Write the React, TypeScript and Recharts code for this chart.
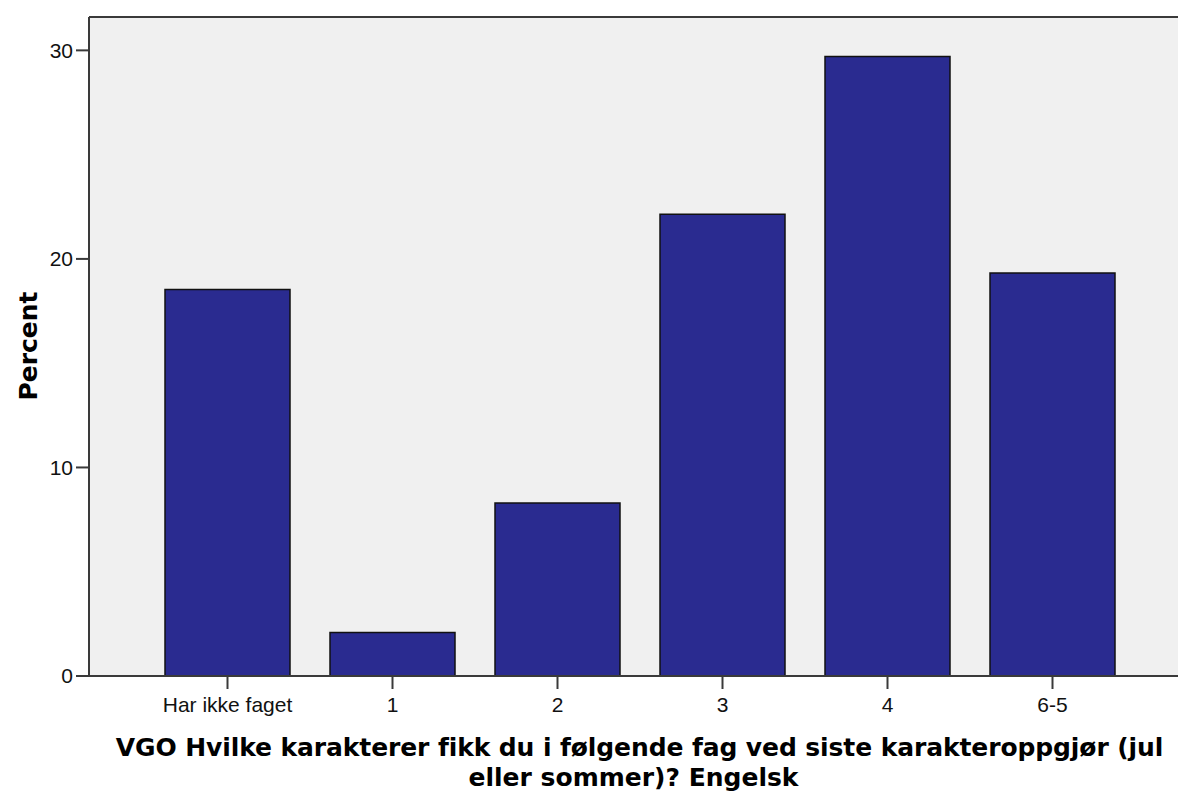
import React from 'react';
import { BarChart, Bar, XAxis, YAxis, CartesianGrid, ReferenceLine } from 'recharts';

const categories = ['Har ikke faget', '1', '2', '3', '4', '6-5'];
const percentValues = [18.53, 2.08, 8.29, 22.14, 29.7, 19.33];
const yTicks = [0, 10, 20, 30];
const yMax = 31.6;
const xTitleLines = [
  'VGO Hvilke karakterer fikk du i følgende fag ved siste karakteroppgjør (jul',
  'eller sommer)? Engelsk',
];
const yTitle = 'Percent';

const data = categories.map((category, i) => ({ category, percent: percentValues[i] }));

const AXIS = '#3a3a3a';
const TICK_FONT = { fontFamily: '"Liberation Sans", Arial, sans-serif', fontSize: 21, fill: '#111' };

const YTitle = () => (
  <text
    x={37}
    y={346}
    transform="rotate(-90, 37, 346)"
    textAnchor="middle"
    style={{ fontFamily: '"DejaVu Sans", sans-serif', fontWeight: 'bold', fontSize: 25, fill: '#000' }}
  >
    {yTitle}
  </text>
);

export default function App() {
  return (
    <div style={{ position: 'absolute', left: 0, top: 0, width: 1178, height: 798, background: '#fff', overflow: 'hidden' }}>
      <BarChart width={1178} height={798} data={data} margin={{ top: 17, right: 0, bottom: 0, left: 0 }}>
        <CartesianGrid fill="#f0f0f0" horizontal={false} vertical={false} />
        <XAxis
          dataKey="category"
          height={122}
          padding={{ left: 56, right: 43 }}
          axisLine={{ stroke: AXIS, strokeWidth: 2 }}
          tickLine={{ stroke: AXIS, strokeWidth: 2 }}
          tickSize={13}
          tickMargin={8}
          tick={TICK_FONT}
          interval={0}
        />
        <YAxis
          width={89}
          domain={[0, yMax]}
          ticks={yTicks}
          allowDataOverflow
          axisLine={{ stroke: AXIS, strokeWidth: 2 }}
          tickLine={{ stroke: AXIS, strokeWidth: 2 }}
          tickSize={13}
          tickMargin={3}
          tick={TICK_FONT}
          label={<YTitle />}
        />
        <ReferenceLine y={yMax} stroke={AXIS} strokeWidth={2} />
        <Bar dataKey="percent" fill="#2a2b90" stroke="#111" strokeWidth={1.5} barSize={125} isAnimationActive={false} />
      </BarChart>
      <div
        style={{
          position: 'absolute',
          left: 89,
          width: 1089,
          top: 733,
          textAlign: 'center',
          fontFamily: '"DejaVu Sans", sans-serif',
          fontWeight: 'bold',
          fontSize: 25,
          lineHeight: '30px',
          color: '#000',
        }}
      >
        {xTitleLines.map((l, i) => (
          <div key={i} style={i === 0 ? { paddingLeft: 12, letterSpacing: -0.1 } : undefined}>
            {l}
          </div>
        ))}
      </div>
    </div>
  );
}
